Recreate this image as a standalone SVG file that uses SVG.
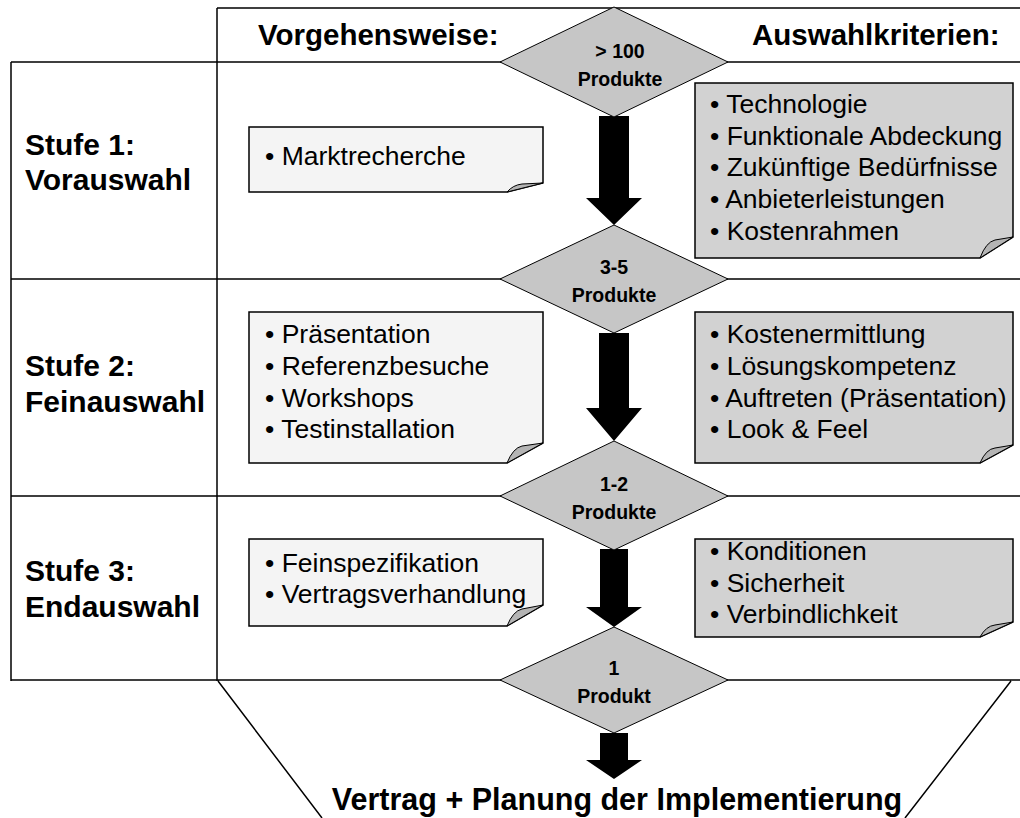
<svg xmlns="http://www.w3.org/2000/svg" width="1020" height="818" viewBox="0 0 1020 818">
<style>
.ln{stroke:#000;stroke-width:1.5;fill:none}
.dia{fill:#c6c6c6;stroke:#000;stroke-width:1}
.boxL{fill:#f4f4f4;stroke:#000;stroke-width:1.5}
.boxR{fill:#d2d2d2;stroke:#000;stroke-width:1.5}
.flap{fill:#b4b4b4;stroke:#000;stroke-width:1}
.arr{fill:#000}
.hd{font-family:'Liberation Sans',Arial,sans-serif;font-weight:bold;font-size:29.5px;fill:#000}
.st{font-family:'Liberation Sans',Arial,sans-serif;font-weight:bold;font-size:30px;fill:#000}
.dt{font-family:'Liberation Sans',Arial,sans-serif;font-weight:bold;font-size:19.5px;fill:#000;text-anchor:middle}
.bt{font-family:'Liberation Sans',Arial,sans-serif;font-size:26.5px;fill:#000}
</style>
<rect width="1020" height="818" fill="#fff"/>
<g id="frame">
<path class="ln" d="M217,8 H1020 M217,8 V681 M11,62 V681 M11,62 H1020 M11,279 H1020 M11,496 H1020 M11,680 H1020 M218,681 L322,818 M1011,681 L905,818"/>
</g>
<g id="headers">
<text class="hd" x="258" y="45">Vorgehensweise:</text>
<text class="hd" x="752" y="45">Auswahlkriterien:</text>
</g>
<g id="stufe1"><text class="st" x="25" y="155">Stufe 1:</text><text class="st" x="25" y="190">Vorauswahl</text></g>
<g id="stufe2"><text class="st" x="25" y="376">Stufe 2:</text><text class="st" x="25" y="412">Feinauswahl</text></g>
<g id="stufe3"><text class="st" x="25" y="581">Stufe 3:</text><text class="st" x="25" y="617">Endauswahl</text></g>
<g id="connectors">
<polygon class="arr" points="599,116 629,116 629,198 642,198 614,225 586,198 599,198"/>
<polygon class="arr" points="599,333 629,333 629,408 642,408 614,441 586,408 599,408"/>
<polygon class="arr" points="600,549 628,549 628,607 642,607 614,627 586,607 600,607"/>
<polygon class="arr" points="600,733 628,733 628,760 642,760 614,779 586,760 600,760"/>
</g>
<g id="d1"><polygon class="dia" points="614,7 728,62 614,117 500,62"/><text class="dt" x="620" y="58">&gt; 100</text><text class="dt" x="620" y="86">Produkte</text></g>
<g id="d2"><polygon class="dia" points="614,225 728,279 614,333 500,279"/><text class="dt" x="614" y="274">3-5</text><text class="dt" x="614" y="302">Produkte</text></g>
<g id="d3"><polygon class="dia" points="614,441 728,496 614,550 500,496"/><text class="dt" x="614" y="491">1-2</text><text class="dt" x="614" y="519">Produkte</text></g>
<g id="d4"><polygon class="dia" points="614,627 728,680 614,733 500,680"/><text class="dt" x="614" y="675">1</text><text class="dt" x="614" y="703">Produkt</text></g>
<g id="nL1">
<path class="boxL" d="M249,127 H543 V183 L507,192 H249 Z"/>
<path class="flap" d="M507,192 Q513,185 522,184 L543,183 Z"/>
<text class="bt" x="265" y="165">• Marktrecherche</text>
</g>
<g id="nR1">
<path class="boxR" d="M695,83 H1013 V237 L980,258 H695 Z"/>
<path class="flap" d="M980,258 Q986,242 995,240 L1013,237 Z"/>
<text class="bt"><tspan x="710" y="113">• Technologie</tspan><tspan x="710" y="145">• Funktionale Abdeckung</tspan><tspan x="710" y="176">• Zukünftige Bedürfnisse</tspan><tspan x="710" y="208">• Anbieterleistungen</tspan><tspan x="710" y="240">• Kostenrahmen</tspan></text>
</g>
<g id="nL2">
<path class="boxL" d="M249,312 H543 V443 L507,463 H249 Z"/>
<path class="flap" d="M507,463 Q513,448 522,446 L543,443 Z"/>
<text class="bt"><tspan x="265" y="343">• Präsentation</tspan><tspan x="265" y="375">• Referenzbesuche</tspan><tspan x="265" y="407">• Workshops</tspan><tspan x="265" y="438">• Testinstallation</tspan></text>
</g>
<g id="nR2">
<path class="boxR" d="M695,312 H1013 V445 L980,463 H695 Z"/>
<path class="flap" d="M980,463 Q986,449 995,448 L1013,445 Z"/>
<text class="bt"><tspan x="710" y="343">• Kostenermittlung</tspan><tspan x="710" y="375">• Lösungskompetenz</tspan><tspan x="710" y="407">• Auftreten (Präsentation)</tspan><tspan x="710" y="438">• Look &amp; Feel</tspan></text>
</g>
<g id="nL3">
<path class="boxL" d="M249,539 H543 V605 L507,626 H249 Z"/>
<path class="flap" d="M507,626 Q513,611 522,609 L543,605 Z"/>
<text class="bt"><tspan x="265" y="572">• Feinspezifikation</tspan><tspan x="265" y="603">• Vertragsverhandlung</tspan></text>
</g>
<g id="nR3">
<path class="boxR" d="M695,539 H1013 V622 L980,637 H695 Z"/>
<path class="flap" d="M980,637 Q986,626 995,625 L1013,622 Z"/>
<text class="bt"><tspan x="710" y="560">• Konditionen</tspan><tspan x="710" y="592">• Sicherheit</tspan><tspan x="710" y="623">• Verbindlichkeit</tspan></text>
</g>
<g id="result"><text class="st" x="617" y="810" text-anchor="middle" style="font-size:30.5px">Vertrag + Planung der Implementierung</text></g>
</svg>
